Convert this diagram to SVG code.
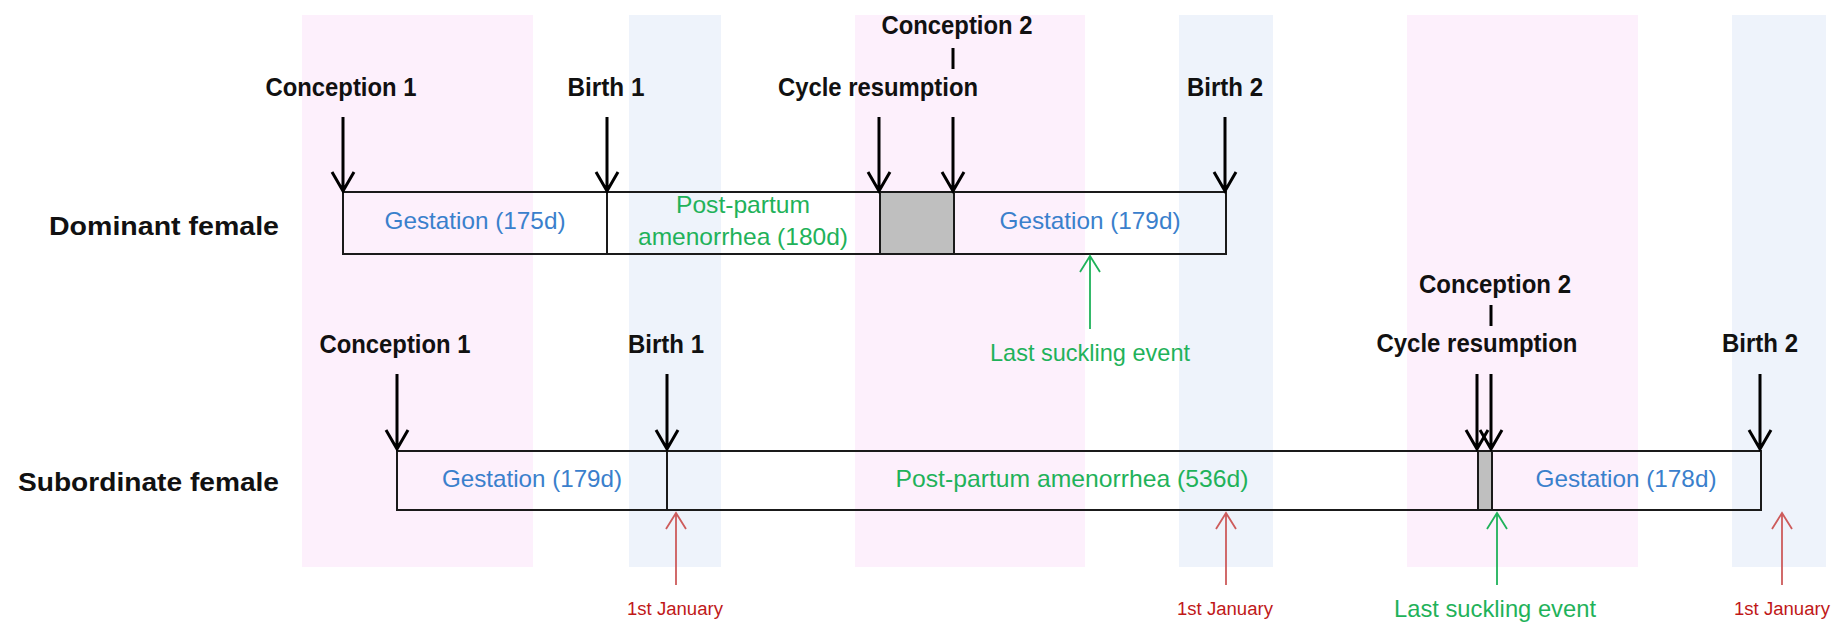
<svg xmlns="http://www.w3.org/2000/svg" width="1837" height="624" viewBox="0 0 1837 624">
<style>
.pink{fill:#FDF0FC}
.blue{fill:#EEF3FB}
.box{fill:none;stroke:#1a1a1a;stroke-width:2}
.div{stroke:#1a1a1a;stroke-width:2}
.grey{fill:#BFBFBF;stroke:#1a1a1a;stroke-width:2}
.lbl{font-family:"Liberation Sans",Arial,sans-serif;font-weight:bold;font-size:26px;fill:#111;text-anchor:middle}
.row{font-family:"Liberation Sans",Arial,sans-serif;font-weight:bold;font-size:26px;fill:#111}
.gest{font-family:"Liberation Sans",Arial,sans-serif;font-size:24px;fill:#3A80CC;text-anchor:middle}
.pp{font-family:"Liberation Sans",Arial,sans-serif;font-size:24px;fill:#1FB25A;text-anchor:middle}
.jan{font-family:"Liberation Sans",Arial,sans-serif;font-size:18px;fill:#C01818;text-anchor:middle}
.suck{font-family:"Liberation Sans",Arial,sans-serif;font-size:24px;fill:#1FB25A;text-anchor:middle}
.blk{fill:none;stroke:#000;stroke-width:3}
.red{fill:none;stroke:#CD5B5B;stroke-width:1.8}
.grn{fill:none;stroke:#1FB25A;stroke-width:1.8}
</style>
<g id="bands">
<rect class="pink" x="302" y="15" width="231" height="552"/>
<rect class="blue" x="629" y="15" width="92" height="552"/>
<rect class="pink" x="855" y="15" width="230" height="552"/>
<rect class="blue" x="1179" y="15" width="94" height="552"/>
<rect class="pink" x="1407" y="15" width="231" height="552"/>
<rect class="blue" x="1732" y="15" width="94" height="552"/>
</g>
<g id="dominant">
<text class="row" x="49" y="235" textLength="230" lengthAdjust="spacingAndGlyphs">Dominant female</text>
<rect class="grey" x="880" y="192" width="74" height="62"/>
<rect class="box" x="343" y="192" width="883" height="62"/>
<line class="div" x1="607" y1="192" x2="607" y2="254"/>
<text class="gest" x="475" y="229" textLength="181" lengthAdjust="spacingAndGlyphs">Gestation (175d)</text>
<text class="pp" x="743" y="213" textLength="134" lengthAdjust="spacingAndGlyphs">Post-partum</text>
<text class="pp" x="743" y="245" textLength="210" lengthAdjust="spacingAndGlyphs">amenorrhea (180d)</text>
<text class="gest" x="1090" y="229" textLength="181" lengthAdjust="spacingAndGlyphs">Gestation (179d)</text>
<text class="lbl" x="341" y="96" textLength="151" lengthAdjust="spacingAndGlyphs">Conception 1</text>
<text class="lbl" x="606" y="96" textLength="77" lengthAdjust="spacingAndGlyphs">Birth 1</text>
<text class="lbl" x="878" y="96" textLength="200" lengthAdjust="spacingAndGlyphs">Cycle resumption</text>
<text class="lbl" x="957" y="34" textLength="151" lengthAdjust="spacingAndGlyphs">Conception 2</text>
<text class="lbl" x="1225" y="96" textLength="76" lengthAdjust="spacingAndGlyphs">Birth 2</text>
<text class="suck" x="1090" y="361" textLength="200" lengthAdjust="spacingAndGlyphs">Last suckling event</text>
</g>
<g id="subordinate">
<text class="row" x="18" y="491" textLength="261" lengthAdjust="spacingAndGlyphs">Subordinate female</text>
<rect class="grey" x="1478" y="451" width="14" height="59"/>
<rect class="box" x="397" y="451" width="1364" height="59"/>
<line class="div" x1="667" y1="451" x2="667" y2="510"/>
<text class="gest" x="532" y="487" textLength="180" lengthAdjust="spacingAndGlyphs">Gestation (179d)</text>
<text class="pp" x="1072" y="487" textLength="353" lengthAdjust="spacingAndGlyphs">Post-partum amenorrhea (536d)</text>
<text class="gest" x="1626" y="487" textLength="181" lengthAdjust="spacingAndGlyphs">Gestation (178d)</text>
<text class="lbl" x="395" y="353" textLength="151" lengthAdjust="spacingAndGlyphs">Conception 1</text>
<text class="lbl" x="666" y="353" textLength="76" lengthAdjust="spacingAndGlyphs">Birth 1</text>
<text class="lbl" x="1495" y="293" textLength="152" lengthAdjust="spacingAndGlyphs">Conception 2</text>
<text class="lbl" x="1477" y="352" textLength="201" lengthAdjust="spacingAndGlyphs">Cycle resumption</text>
<text class="lbl" x="1760" y="352" textLength="76" lengthAdjust="spacingAndGlyphs">Birth 2</text>
<text class="jan" x="675" y="615" textLength="96" lengthAdjust="spacingAndGlyphs">1st January</text>
<text class="jan" x="1225" y="615" textLength="96" lengthAdjust="spacingAndGlyphs">1st January</text>
<text class="jan" x="1782" y="615" textLength="96" lengthAdjust="spacingAndGlyphs">1st January</text>
<text class="suck" x="1495" y="617" textLength="202" lengthAdjust="spacingAndGlyphs">Last suckling event</text>
</g>
<g id="connectors">
<path class="blk" d="M343 117V191M332 172L343 191L354 172"/>
<path class="blk" d="M607 117V191M596 172L607 191L618 172"/>
<path class="blk" d="M879 117V191M868 172L879 191L890 172"/>
<path class="blk" d="M953 117V191M942 172L953 191L964 172"/>
<path class="blk" d="M953 48V69"/>
<path class="blk" d="M1225 117V191M1214 172L1225 191L1236 172"/>
<path class="grn" d="M1090 329V256M1080 272L1090 256L1100 272"/>
<path class="blk" d="M397 374V449M386 430L397 449L408 430"/>
<path class="blk" d="M667 374V449M656 430L667 449L678 430"/>
<path class="blk" d="M1477 374V449M1466 430L1477 449L1488 430"/>
<path class="blk" d="M1491 374V449M1480 430L1491 449L1502 430"/>
<path class="blk" d="M1491 305V326"/>
<path class="blk" d="M1760 374V449M1749 430L1760 449L1771 430"/>
<path class="red" d="M676 585V513M666 529L676 513L686 529"/>
<path class="red" d="M1226 585V513M1216 529L1226 513L1236 529"/>
<path class="red" d="M1782 585V513M1772 529L1782 513L1792 529"/>
<path class="grn" d="M1497 585V513M1487 529L1497 513L1507 529"/>
</g>
</svg>
